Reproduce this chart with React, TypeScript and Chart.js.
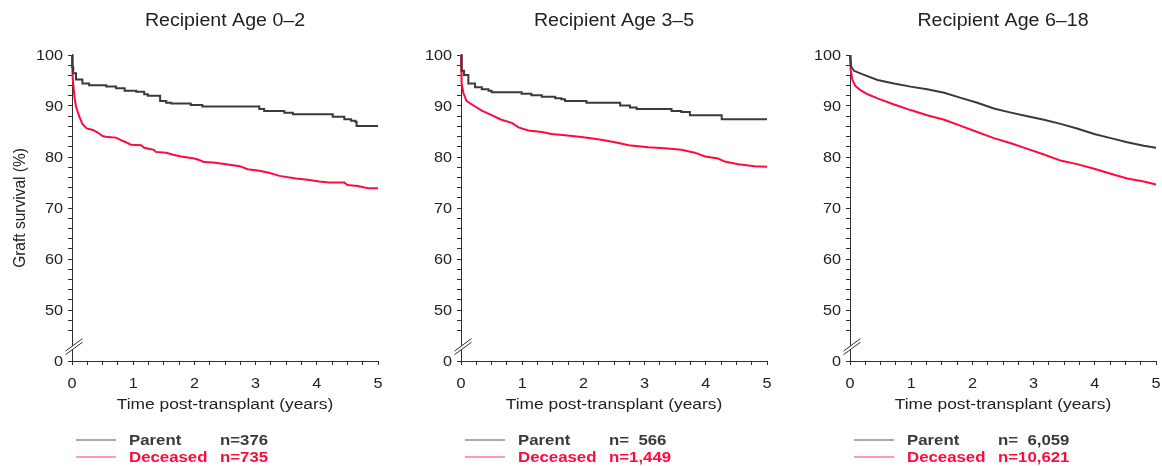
import React, { useEffect, useRef } from 'react';
import { Chart, registerables } from 'chart.js';

Chart.register(...registerables);

// ---- Data -------------------------------------------------------------

const panelTitles = ['Recipient Age 0\u20132', 'Recipient Age 3\u20135', 'Recipient Age 6\u201318'];
const seriesNames = ['Parent', 'Deceased'];
const legendCounts = [
  ['n=376', 'n=735'],
  ['n=  566', 'n=1,449'],
  ['n=  6,059', 'n=10,621'],
];

// Age 0–2
const age02ParentT = [0, 0.005, 0.02, 0.065, 0.17, 0.28, 0.56, 0.72, 0.86, 1.05, 1.18, 1.24, 1.44, 1.54, 1.62, 1.94, 2.13, 3.06, 3.14, 3.47, 3.61, 4.26, 4.45, 4.56, 4.63, 4.65, 5.0];
const age02ParentS = [100, 97.6, 96.4, 95.2, 94.4, 94.05, 93.8, 93.5, 93.0, 92.8, 92.3, 92.0, 91.0, 90.65, 90.5, 90.2, 89.9, 89.4, 89.0, 88.7, 88.4, 87.9, 87.4, 87.1, 86.9, 86.1, 86.1];
const age02DeceasedT = [0, 0.01, 0.04, 0.065, 0.12, 0.17, 0.24, 0.34, 0.42, 0.5, 0.58, 0.72, 0.8, 0.88, 0.96, 1.13, 1.18, 1.34, 1.37, 1.54, 1.64, 1.78, 2.0, 2.08, 2.16, 2.3, 2.52, 2.74, 2.87, 3.06, 3.22, 3.39, 3.66, 3.88, 4.04, 4.2, 4.45, 4.5, 4.67, 4.78, 4.86, 5.0];
const age02DeceasedS = [100, 95.75, 91.8, 89.9, 87.9, 86.5, 85.6, 85.3, 84.8, 84.1, 83.9, 83.8, 83.3, 82.9, 82.4, 82.3, 81.8, 81.4, 81.0, 80.85, 80.5, 80.1, 79.7, 79.4, 79.0, 78.9, 78.6, 78.2, 77.6, 77.3, 76.9, 76.3, 75.8, 75.5, 75.2, 75.0, 75.0, 74.5, 74.3, 74.0, 73.85, 73.85];

// Age 3–5
const age35ParentT = [0, 0.01, 0.05, 0.12, 0.23, 0.34, 0.45, 0.5, 0.99, 1.15, 1.32, 1.54, 1.64, 1.7, 2.05, 2.6, 2.76, 2.87, 3.44, 3.6, 3.74, 4.26, 5.0];
const age35ParentS = [100, 96.9, 96.1, 94.4, 93.7, 93.3, 93.0, 92.7, 92.4, 92.1, 91.8, 91.5, 91.3, 91.0, 90.65, 90.1, 89.7, 89.4, 89.0, 88.8, 88.2, 87.4, 87.4];
const age35DeceasedT = [0, 0.01, 0.04, 0.09, 0.15, 0.23, 0.34, 0.5, 0.66, 0.83, 0.94, 1.1, 1.32, 1.48, 1.7, 1.97, 2.24, 2.52, 2.74, 3.06, 3.33, 3.6, 3.82, 3.99, 4.2, 4.31, 4.53, 4.8, 5.0];
const age35DeceasedS = [100, 94.4, 92.5, 91.0, 90.5, 89.9, 89.1, 88.2, 87.3, 86.7, 85.8, 85.2, 84.9, 84.5, 84.25, 83.9, 83.5, 82.9, 82.3, 81.9, 81.7, 81.4, 80.85, 80.1, 79.7, 79.1, 78.6, 78.2, 78.1];

// Age 6–18
const age618ParentT = [0, 0.02, 0.065, 0.23, 0.45, 0.72, 0.99, 1.26, 1.54, 1.81, 2.08, 2.35, 2.63, 2.9, 3.17, 3.44, 3.71, 3.99, 4.26, 4.53, 4.8, 5.0];
const age618ParentS = [100, 97.7, 96.9, 96.1, 95.1, 94.4, 93.8, 93.3, 92.6, 91.6, 90.65, 89.5, 88.7, 88.0, 87.3, 86.5, 85.6, 84.5, 83.7, 82.9, 82.2, 81.8];
const age618DeceasedT = [0, 0.01, 0.04, 0.09, 0.17, 0.28, 0.45, 0.72, 0.99, 1.26, 1.54, 1.81, 2.08, 2.35, 2.63, 2.9, 3.17, 3.44, 3.71, 3.99, 4.26, 4.53, 4.8, 5.0];
const age618DeceasedS = [100, 97.1, 95.1, 93.9, 93.1, 92.35, 91.5, 90.3, 89.2, 88.2, 87.3, 86.1, 84.9, 83.7, 82.7, 81.6, 80.5, 79.3, 78.6, 77.7, 76.7, 75.8, 75.2, 74.6];

const xTickLabels = ['0', '1', '2', '3', '4', '5'];
const yTickLabels = ['0', '50', '60', '70', '80', '90', '100'];

// Small cohorts are drawn as Kaplan–Meier steps, large ones as connected lines
const panelSeries = [
  { parent: [age02ParentT, age02ParentS], deceased: [age02DeceasedT, age02DeceasedS], parentStep: true, deceasedStep: false },
  { parent: [age35ParentT, age35ParentS], deceased: [age35DeceasedT, age35DeceasedS], parentStep: true, deceasedStep: false },
  { parent: [age618ParentT, age618ParentS], deceased: [age618DeceasedT, age618DeceasedS], parentStep: false, deceasedStep: false },
];

// ---- Styling ----------------------------------------------------------

const FONT = "'Liberation Sans', Arial, Helvetica, sans-serif";
const SX = 1.12; // horizontal text stretch
const AXIS_COLOR = '#2e2e2e';
const TEXT_COLOR = '#222222';
const PARENT_COLOR = '#3a3a3a';
const DECEASED_COLOR = '#ff0a3c';
const PARENT_KEY = '#8e8e8e';
const DECEASED_KEY = '#ff7994';

const CANVAS_H = 466;
const panelLefts = [0, 389, 778];
const panelWidths = [389, 389, 384];
const PLOT_LEFT = 72;
const PLOT_RIGHT = 378;
const PLOT_TOP = 55;
const PLOT_BOTTOM = 361;

const Y_MIN = 40; // drawn as 0 below the axis break
const BREAK_VALUE = 42.6;

function drawText(
  ctx: CanvasRenderingContext2D,
  text: string,
  x: number,
  y: number,
  font: string,
  color: string,
  align: CanvasTextAlign,
) {
  ctx.save();
  ctx.font = font;
  ctx.fillStyle = color;
  ctx.textAlign = align;
  ctx.textBaseline = 'alphabetic';
  ctx.translate(x, y);
  ctx.scale(SX, 1);
  ctx.fillText(text, 0, 0);
  ctx.restore();
}

function makeDecorPlugin(index: number) {
  return {
    id: 'panelDecor' + index,
    afterDraw(chart: any) {
      const ctx: CanvasRenderingContext2D = chart.ctx;
      const area = chart.chartArea;
      const xs = chart.scales.x;
      const ys = chart.scales.y;
      const cx = (area.left + area.right) / 2;

      // panel title
      drawText(ctx, panelTitles[index], cx, 26, `17.5px ${FONT}`, TEXT_COLOR, 'center');

      // tick labels
      const tickFont = `14.5px ${FONT}`;
      ys.ticks.forEach((t: any) => {
        if (t.value % 10 !== 0) return;
        const label = t.value === Y_MIN ? yTickLabels[0] : yTickLabels[(t.value - 40) / 10];
        drawText(ctx, label, area.left - 9, ys.getPixelForValue(t.value) + 5.3, tickFont, TEXT_COLOR, 'right');
      });
      xs.ticks.forEach((t: any) => {
        if (!Number.isInteger(t.value)) return;
        drawText(ctx, xTickLabels[t.value], xs.getPixelForValue(t.value), 388, tickFont, TEXT_COLOR, 'center');
      });

      // axis titles
      drawText(ctx, 'Time post-transplant (years)', cx, 408.5, `15.5px ${FONT}`, TEXT_COLOR, 'center');
      if (index === 0) {
        ctx.save();
        ctx.font = `15.5px ${FONT}`;
        ctx.fillStyle = TEXT_COLOR;
        ctx.textAlign = 'center';
        ctx.textBaseline = 'alphabetic';
        ctx.translate(25, (area.top + area.bottom) / 2);
        ctx.scale(SX, 1);
        ctx.rotate(-Math.PI / 2);
        ctx.fillText('Graft survival (%)', 0, 0);
        ctx.restore();
      }

      // axis break on the y axis
      const yb = ys.getPixelForValue(BREAK_VALUE);
      const ax = area.left + 0.5;
      const slope = -0.737;
      const gap = 1.8;
      const x0 = ax - 7;
      const x1 = ax + 10;
      const lineY = (x: number, off: number) => yb + off + slope * (x - ax);
      ctx.save();
      ctx.fillStyle = '#ffffff';
      ctx.beginPath();
      ctx.moveTo(x0, lineY(x0, gap));
      ctx.lineTo(x1, lineY(x1, gap));
      ctx.lineTo(x1, lineY(x1, -gap));
      ctx.lineTo(x0, lineY(x0, -gap));
      ctx.closePath();
      ctx.fill();
      ctx.strokeStyle = AXIS_COLOR;
      ctx.lineWidth = 1;
      [gap, -gap].forEach((off) => {
        ctx.beginPath();
        ctx.moveTo(x0, lineY(x0, off));
        ctx.lineTo(x1, lineY(x1, off));
        ctx.stroke();
      });
      ctx.restore();

      // legend
      const lx = area.left;
      const rows = [
        { y: 440, color: PARENT_KEY, text: seriesNames[0], textColor: '#3a3a3a' },
        { y: 457, color: DECEASED_KEY, text: seriesNames[1], textColor: DECEASED_COLOR },
      ];
      rows.forEach((r, i) => {
        ctx.save();
        ctx.strokeStyle = r.color;
        ctx.lineWidth = 1.3;
        ctx.beginPath();
        ctx.moveTo(lx + 4, r.y);
        ctx.lineTo(lx + 44, r.y);
        ctx.stroke();
        ctx.restore();
        const lf = `bold 15px ${FONT}`;
        drawText(ctx, r.text, lx + 57, r.y + 5.3, lf, r.textColor, 'left');
        drawText(ctx, legendCounts[index][i], lx + 148, r.y + 5.3, lf, r.textColor, 'left');
      });
    },
  };
}

function buildConfig(index: number): any {
  const s = panelSeries[index];
  const toPoints = (pair: number[][]) => pair[0].map((t, i) => ({ x: t, y: pair[1][i] }));
  const hiddenY = (v: number) => v > Y_MIN && v < 46;
  return {
    type: 'line',
    data: {
      datasets: [
        {
          label: seriesNames[0],
          data: toPoints(s.parent),
          borderColor: PARENT_COLOR,
          borderWidth: 2,
          pointRadius: 0,
          stepped: s.parentStep ? 'before' : false,
          tension: 0,
          fill: false,
          clip: 4,
        },
        {
          label: seriesNames[1],
          data: toPoints(s.deceased),
          borderColor: DECEASED_COLOR,
          borderWidth: 2,
          pointRadius: 0,
          stepped: s.deceasedStep ? 'before' : false,
          tension: 0,
          fill: false,
          clip: 4,
        },
      ],
    },
    options: {
      animation: false,
      responsive: false,
      maintainAspectRatio: false,
      events: [],
      layout: {
        padding: { top: PLOT_TOP, left: 0, bottom: 0, right: panelWidths[index] - PLOT_RIGHT },
      },
      plugins: {
        legend: { display: false },
        title: { display: false },
        tooltip: { enabled: false },
      },
      scales: {
        x: {
          type: 'linear',
          min: 0,
          max: 5,
          ticks: { stepSize: 0.25, display: false, maxTicksLimit: 60, autoSkip: false },
          grid: { drawOnChartArea: false, drawTicks: true, tickLength: 4, tickColor: AXIS_COLOR, tickWidth: 1 },
          border: { color: AXIS_COLOR, width: 1 },
          afterFit: (scale: any) => {
            scale.height = CANVAS_H - PLOT_BOTTOM;
          },
        },
        y: {
          type: 'linear',
          min: Y_MIN,
          max: 100,
          ticks: { stepSize: 2, display: false, maxTicksLimit: 60, autoSkip: false },
          grid: {
            drawOnChartArea: false,
            drawTicks: true,
            tickLength: 4,
            tickWidth: 1,
            tickColor: (c: any) => (c.tick && hiddenY(c.tick.value) ? 'rgba(0,0,0,0)' : AXIS_COLOR),
          },
          border: { color: AXIS_COLOR, width: 1 },
          afterFit: (scale: any) => {
            scale.width = PLOT_LEFT;
          },
        },
      },
    },
    plugins: [makeDecorPlugin(index)],
  };
}

function Panel({ index }: { index: number }) {
  const ref = useRef<HTMLCanvasElement | null>(null);
  useEffect(() => {
    if (!ref.current) return;
    const chart = new Chart(ref.current, buildConfig(index));
    return () => chart.destroy();
  }, [index]);
  return (
    <canvas
      ref={ref}
      width={panelWidths[index]}
      height={CANVAS_H}
      style={{
        position: 'absolute',
        left: panelLefts[index],
        top: 0,
        width: panelWidths[index],
        height: CANVAS_H,
      }}
    />
  );
}

export default function App() {
  return (
    <div
      style={{
        position: 'fixed',
        left: 0,
        top: 0,
        width: 1162,
        height: CANVAS_H,
        background: '#ffffff',
        overflow: 'hidden',
      }}
    >
      {[0, 1, 2].map((i) => (
        <Panel key={i} index={i} />
      ))}
    </div>
  );
}
